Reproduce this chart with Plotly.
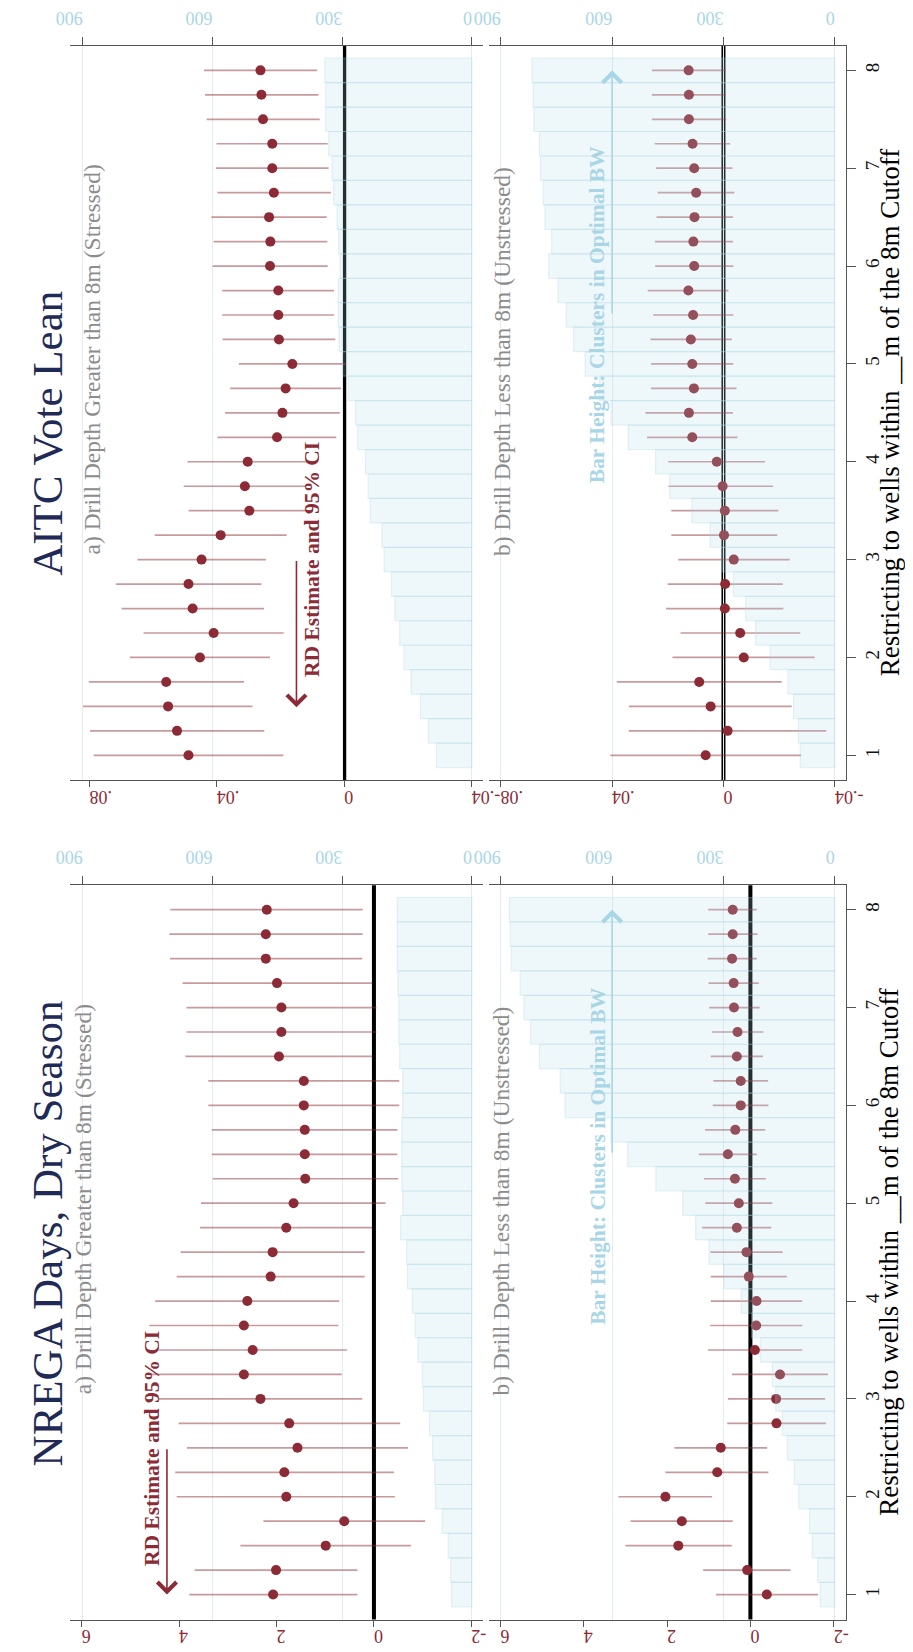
import plotly.graph_objects as go

W, H = 913, 1652

# ---------------- data ----------------
bandwidth = [1.0, 1.25, 1.5, 1.75, 2.0, 2.25, 2.5, 2.75, 3.0, 3.25, 3.5, 3.75, 4.0, 4.25,
             4.5, 4.75, 5.0, 5.25, 5.5, 5.75, 6.0, 6.25, 6.5, 6.75, 7.0, 7.25, 7.5, 7.75, 8.0]
bw_ticks = [1, 2, 3, 4, 5, 6, 7, 8]

# AITC Vote Lean, a) stressed
aitc_a_est = [.0489, .0525, .0553, .0559, .0453, .0410, .0476, .0489, .0448, .0388, .0298, .0312, .0303, .0211,
              .0194, .0184, .0163, .0205, .0207, .0207, .0233, .0232, .0236, .0221, .0226, .0226, .0255, .0260, .0263]
aitc_a_hi = [.0787, .0798, .0820, .0802, .0673, .0630, .0699, .0717, .0649, .0595, .0488, .0504, .0492, .0398,
             .0374, .0358, .0331, .0382, .0383, .0383, .0413, .0410, .0417, .0398, .0403, .0401, .0432, .0437, .0440]
aitc_a_lo = [.0191, .0251, .0288, .0315, .0233, .0190, .0252, .0260, .0246, .0181, .0108, .0120, .0113, .0025,
             .0014, .0010, -.0005, .0028, .0032, .0032, .0052, .0053, .0055, .0042, .0049, .0052, .0077, .0081, .0085]
aitc_a_clusters = [82, 101, 119, 141, 157, 167, 178, 186, 203, 208, 235, 240, 246, 264, 269, 286, 299, 307, 309,
                   309, 305, 308, 312, 320, 323, 331, 338, 338, 340]

# AITC Vote Lean, b) unstressed
aitc_b_est = [.0064, -.0015, .0046, .0087, -.0073, -.0060, -.0005, -.0006, -.0037, -.0002, -.0005, .0003, .0024,
              .0112, .0124, .0106, .0112, .0117, .0109, .0126, .0105, .0108, .0104, .0098, .0105, .0111, .0124,
              .0124, .0125]
aitc_b_hi = [.0406, .0340, .0339, .0383, .0183, .0154, .0206, .0200, .0162, .0187, .0187, .0197, .0198, .0274,
             .0280, .0260, .0260, .0262, .0252, .0272, .0245, .0246, .0240, .0236, .0242, .0247, .0257, .0257, .0257]
aitc_b_lo = [-.0279, -.0369, -.0245, -.0209, -.0328, -.0276, -.0215, -.0213, -.0238, -.0193, -.0197, -.0178,
             -.0149, -.0050, -.0034, -.0047, -.0035, -.0030, -.0036, -.0018, -.0036, -.0034, -.0034, -.0039,
             -.0032, -.0024, -.0010, -.0008, -.0008]
aitc_b_clusters = [93, 98, 111, 126, 174, 213, 240, 273, 304, 336, 385, 445, 483, 557, 603, 634, 673, 704, 724,
                   746, 771, 763, 781, 786, 793, 796, 811, 813, 816]

# NREGA Days, Dry Season, a) stressed
nrega_a_est = [2.07, 2.01, 0.99, 0.61, 1.80, 1.84, 1.57, 1.74, 2.33, 2.67, 2.49, 2.67, 2.60, 2.12, 2.08, 1.80,
               1.65, 1.41, 1.42, 1.42, 1.44, 1.44, 1.95, 1.90, 1.90, 1.99, 2.22, 2.22, 2.20]
nrega_a_hi = [3.79, 3.68, 2.74, 2.27, 4.05, 4.08, 3.84, 4.01, 4.42, 4.68, 4.42, 4.61, 4.49, 4.05, 3.97, 3.57,
              3.55, 3.31, 3.33, 3.33, 3.40, 3.40, 3.87, 3.85, 3.85, 3.93, 4.19, 4.20, 4.18]
nrega_a_lo = [0.34, 0.34, -0.76, -1.05, -0.43, -0.41, -0.70, -0.54, 0.24, 0.66, 0.55, 0.73, 0.71, 0.19, 0.19,
              0.04, -0.24, -0.50, -0.48, -0.48, -0.52, -0.52, 0.03, -0.05, -0.05, 0.03, 0.24, 0.23, 0.23]
nrega_a_clusters = [47, 49, 55, 69, 84, 86, 91, 98, 112, 115, 125, 131, 138, 149, 151, 165, 160, 162, 162, 162,
                    160, 160, 167, 169, 169, 171, 173, 173, 173]

# NREGA Days, Dry Season, b) unstressed
nrega_b_est = [-.394, .077, 1.731, 1.646, 2.040, .796, .711, -.626, -.618, -.711, -.108, -.139, -.147, .039, .093,
               .325, .278, .371, .541, .363, .232, .232, .325, .309, .394, .402, .440, .425, .425]
nrega_b_hi = [.827, 1.136, 2.998, 2.875, 3.168, 2.040, 1.824, .556, .541, .440, 1.020, .966, .951, .951, .958,
              1.159, 1.082, 1.113, 1.236, 1.090, .904, .889, .951, .920, .989, 1.005, 1.028, 1.012, 1.012]
nrega_b_lo = [-1.623, -.966, .448, .425, .920, -.433, -.402, -1.816, -1.793, -1.862, -1.244, -1.244, -1.244,
              -.873, -.773, -.502, -.526, -.371, -.155, -.355, -.433, -.425, -.301, -.309, -.224, -.201, -.155,
              -.170, -.155]
nrega_b_clusters = [39, 46, 61, 68, 97, 109, 128, 141, 159, 168, 200, 224, 252, 299, 339, 375, 410, 482, 558, 603,
                    727, 740, 796, 820, 838, 848, 872, 875, 877]

aitc_rd_ticks = [-0.04, 0, 0.04, 0.08]
aitc_rd_text = ["-.04", "0", ".04", ".08"]
nrega_rd_ticks = [-2, 0, 2, 4, 6]
nrega_rd_text = ["-2", "0", "2", "4", "6"]
cluster_ticks = [0, 300, 600, 900]
cluster_text = ["0", "300", "600", "900"]

graph_titles = ["AITC Vote Lean", "NREGA Days, Dry Season"]
panel_titles = ["a) Drill Depth Greater than 8m (Stressed)", "b) Drill Depth Less than 8m (Unstressed)"]
x_title = "Restricting to wells within __m of the 8m Cutoff"
rd_label = "RD Estimate and 95% CI"
bar_label = "Bar Height: Clusters in Optimal BW"

# ---------------- styling ----------------
SERIF = "Liberation Serif, Times New Roman, Times, serif"
DOT = "#8c2a35"
CI = "rgba(139,43,53,0.48)"
RDTXT = "#8c2a35"
BLUE = "#a9d6e6"
GRID = "#e2ecf1"
AXC = "#555555"
NAVY = "#1f2a57"
GREY = "#8c8c8c"


def fx(p):
    return p / W


def fy(p):
    return 1 - p / H


panels = [
    dict(rd="x", cnt="x2", y="y", xd=(50, 477), yd=(33, 769.6), rdr=[0.086, -0.0435], cr=[928.5, -25.2],
         tv=aitc_rd_ticks, tt=aitc_rd_text, est=aitc_a_est, lo=aitc_a_lo, hi=aitc_a_hi,
         cl=aitc_a_clusters, right=False),
    dict(rd="x3", cnt="x4", y="y2", xd=(483, 853), yd=(33, 769.6), rdr=[0.0843, -0.0440], cr=[933, -30.5],
         tv=aitc_rd_ticks, tt=aitc_rd_text, est=aitc_b_est, lo=aitc_b_lo, hi=aitc_b_hi,
         cl=aitc_b_clusters, right=True),
    dict(rd="x5", cnt="x6", y="y3", xd=(50, 477), yd=(874.9, 1611.4), rdr=[6.234, -2.235], cr=[928.5, -25.2],
         tv=nrega_rd_ticks, tt=nrega_rd_text, est=nrega_a_est, lo=nrega_a_lo, hi=nrega_a_hi,
         cl=nrega_a_clusters, right=False),
    dict(rd="x7", cnt="x8", y="y4", xd=(483, 853), yd=(874.9, 1611.4), rdr=[6.285, -2.296], cr=[933, -30.5],
         tv=nrega_rd_ticks, tt=nrega_rd_text, est=nrega_b_est, lo=nrega_b_lo, hi=nrega_b_hi,
         cl=nrega_b_clusters, right=True),
]


def lname(a):
    return ("xaxis" if a[0] == "x" else "yaxis") + a[1:]


fig = go.Figure()
layout = {}
shapes = []

for p in panels:
    # CI segments
    xs, ys = [], []
    for b, l, h in zip(bandwidth, p["lo"], p["hi"]):
        xs += [l, h, None]
        ys += [b, b, None]
    fig.add_trace(go.Scatter(x=xs, y=ys, mode="lines", line=dict(color=CI, width=1.7),
                             xaxis=p["rd"], yaxis=p["y"], hoverinfo="skip"))
    fig.add_trace(go.Scatter(x=p["est"], y=bandwidth, mode="markers",
                             marker=dict(color=DOT, size=10, line=dict(width=0)),
                             xaxis=p["rd"], yaxis=p["y"]))
    # bars on overlaying cluster axis (drawn above the estimates)
    fig.add_trace(go.Bar(x=p["cl"], y=bandwidth, orientation="h", width=0.25,
                         marker=dict(color="rgba(173,216,230,0.21)",
                                     line=dict(color="rgba(173,216,230,0.30)", width=1.2)),
                         xaxis=p["cnt"], yaxis=p["y"]))

    dom_x = [fx(p["xd"][0]), fx(p["xd"][1])]
    dom_y = [fy(p["yd"][1]), fy(p["yd"][0])]
    layout[lname(p["rd"])] = dict(
        domain=dom_x, anchor=p["y"], side="bottom", range=p["rdr"], autorange=False,
        tickmode="array", tickvals=p["tv"], ticktext=p["tt"], tickangle=180,
        ticks="outside", ticklen=6, tickwidth=1, tickcolor=AXC,
        showline=True, linecolor=AXC, linewidth=1.2, showgrid=False, zeroline=False,
        tickfont=dict(family=SERIF, size=18, color=RDTXT))
    layout[lname(p["cnt"])] = dict(
        overlaying=p["rd"], anchor=p["y"], side="top", range=p["cr"], autorange=False,
        tickmode="array", tickvals=cluster_ticks, ticktext=cluster_text, tickangle=180,
        ticks="outside", ticklen=8, tickwidth=1, tickcolor=AXC,
        showline=True, linecolor=AXC, linewidth=1.2, showgrid=True, gridcolor=GRID, gridwidth=1.2,
        zeroline=False, tickfont=dict(family=SERIF, size=18, color=BLUE))
    ya = dict(domain=dom_y, anchor=p["rd"], range=[0.745, 8.25], autorange=False,
              showgrid=False, zeroline=False)
    if p["right"]:
        ya.update(side="right", tickmode="array", tickvals=bw_ticks, tickangle=-90,
                  ticks="outside", ticklen=9, tickwidth=1, tickcolor=AXC,
                  showline=True, linecolor=AXC, linewidth=1.2,
                  tickfont=dict(family=SERIF, size=19, color="#111111"))
    else:
        ya.update(showticklabels=False, ticks="", showline=False)
    layout[lname(p["y"])] = ya

    # zero reference line of the RD axis (below the grid lines)
    shapes.append(dict(type="line", xref=p["rd"], yref=p["y"] + " domain", x0=0, x1=0, y0=0, y1=1,
                       layer="below", line=dict(color="black", width=4)))

annotations = []


def txt(t, x, y, size, color, bold=False):
    annotations.append(dict(text=("<b>%s</b>" % t) if bold else t, x=fx(x), y=fy(y), xref="paper",
                            yref="paper", showarrow=False, textangle=-90, xanchor="center",
                            yanchor="middle", font=dict(family=SERIF, size=size, color=color)))


# graph titles
txt(graph_titles[0], 27, 422, 43, NAVY)
txt(graph_titles[1], 26, 1224, 43, NAVY)
# panel subtitles
txt(panel_titles[0], 72, 348, 23.5, GREY)
txt(panel_titles[1], 497, 350, 23.5, GREY)
txt(panel_titles[0], 64, 1190, 23.5, GREY)
txt(panel_titles[1], 496, 1192, 23.5, GREY)
# axis titles
txt(x_title, 898, 401, 27, "black")
txt(x_title, 898, 1243, 27, "black")
# RD labels
txt(rd_label, 301, 548, 21.5, RDTXT, bold=True)
txt(rd_label, 134, 1440, 21.5, RDTXT, bold=True)
# bar labels
txt(bar_label, 595.5, 302, 21.5, BLUE, bold=True)
txt(bar_label, 595.5, 1146, 21.5, BLUE, bold=True)


def arrow(xr, yr, x, y0, y1, color):
    annotations.append(dict(text="", xref=xr, yref=yr, axref=xr, ayref=yr, x=x, y=y1, ax=x, ay=y0,
                            showarrow=True, arrowhead=4, arrowsize=2.3, arrowwidth=1.6,
                            arrowcolor=color, standoff=0, startstandoff=0))


arrow("x", "y", 0.015, 3.0, 1.49, RDTXT)
arrow("x5", "y3", 4.25, 2.5, 1.0, RDTXT)
arrow("x4", "y2", 600, 5.5, 8.0, BLUE)
arrow("x8", "y4", 600, 5.5, 8.0, BLUE)

fig.update_layout(**layout)
fig.update_layout(width=W, height=H, autosize=False, margin=dict(l=0, r=0, t=0, b=0),
                  paper_bgcolor="white", plot_bgcolor="white", showlegend=False,
                  font=dict(family=SERIF), shapes=shapes, annotations=annotations, barmode="overlay")

fig.write_html("out.html")
